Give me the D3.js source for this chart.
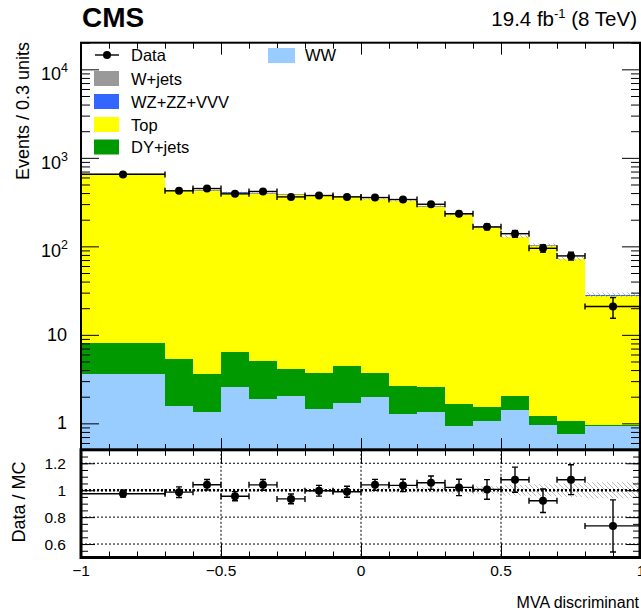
<!DOCTYPE html>
<html>
<head>
<meta charset="utf-8">
<script src="https://cdn.jsdelivr.net/npm/d3@7"></script>
<style>
body { margin: 0; background: #fff; }
text { font-family: "Liberation Sans", Arial, sans-serif; fill: #000; }
</style>
</head>
<body>
<script>
var w = 641;
var h = 615;

// bin edges of the MVA discriminant
var edges = [-1, -0.7, -0.6, -0.5, -0.4, -0.3, -0.2, -0.1, 0, 0.1, 0.2, 0.3, 0.4, 0.5, 0.6, 0.7, 0.8, 1];

// stacked backgrounds, bottom to top
var ww    = [3.65, 1.57, 1.34, 2.58, 1.87, 2.04, 1.46, 1.70, 2.00, 1.27, 1.34, 0.94, 1.06, 1.42, 0.96, 0.76, 0.93];
var dy    = [4.40, 3.73, 2.25, 3.79, 3.25, 2.05, 2.26, 2.76, 1.68, 1.38, 1.24, 0.72, 0.47, 0.62, 0.25, 0.30, 0.02];
var top_  = [652, 420, 423, 399, 389, 378, 368, 357, 335, 320, 277, 225, 161, 125, 100, 70, 26.8];
var wz    = [1.5, 1.0, 1.0, 1.0, 1.0, 1.0, 0.9, 0.9, 0.8, 0.8, 0.7, 0.6, 0.5, 0.4, 0.4, 0.3, 0.2];
var wjets = [6.0, 4.0, 5.0, 4.0, 6.0, 4.0, 4.0, 4.0, 3.0, 3.0, 3.0, 2.0, 2.0, 1.5, 1.5, 1.0, 0.5];

// relative MC uncertainty (hatched band)
var mcUnc = [0.010, 0.012, 0.012, 0.012, 0.013, 0.014, 0.015, 0.016, 0.018, 0.020, 0.022, 0.025, 0.030, 0.040, 0.045, 0.050, 0.060];

// observed data
var data    = [650, 424, 450, 392, 417, 362, 375, 362, 356, 338, 299, 234, 166, 139, 95, 78, 20.9];
var dataErr = [17, 17, 17, 14, 16, 14, 15, 15, 14, 15, 14, 14, 12, 12, 9, 8, 5.5];

var yTicks = [1, 10, 100, 1000, 10000];
var yTickLabels = [["1", ""], ["10", ""], ["10", "2"], ["10", "3"], ["10", "4"]];
var xTicks = [-1, -0.5, 0, 0.5, 1];
var xTickLabels = ["\u22121", "\u22120.5", "0", "0.5", "1"];
var rTicks = [0.6, 0.8, 1, 1.2];
var rTickLabels = ["0.6", "0.8", "1", "1.2"];

var colors = { WW: "#99ccff", DY: "#009900", Top: "#ffff00", WZ: "#3366ff", Wjets: "#999999" };
var keys = ["WW", "DY", "Top", "WZ", "Wjets"];

var xScale = d3.scaleLinear().domain([-1, 1]).range([81, 641]);
var yScale = d3.scaleLog().domain([0.5, 2e4]).range([450, 42.7]);
var rScale = d3.scaleLinear().domain([0.5, 1.3]).range([557.5, 449.8]);

var rows = edges.slice(0, -1).map(function(e, i) {
  return { lo: e, hi: edges[i + 1], WW: ww[i], DY: dy[i], Top: top_[i], WZ: wz[i], Wjets: wjets[i] };
});
rows.forEach(function(r, i) {
  r.total = r.WW + r.DY + r.Top + r.WZ + r.Wjets;
  r.unc = mcUnc[i];
  r.data = data[i];
  r.err = dataErr[i];
  r.ratio = data[i] / r.total;
  r.rerr = dataErr[i] / r.total;
  r.mid = (r.lo + r.hi) / 2;
});
var series = d3.stack().keys(keys)(rows);

var svg = d3.select("body").append("svg").attr("width", w).attr("height", h);

var defs = svg.append("defs");
defs.append("clipPath").attr("id", "clipMain").append("rect")
  .attr("x", 81).attr("y", 42.7).attr("width", 560).attr("height", 450 - 42.7);
defs.append("clipPath").attr("id", "clipRatio").append("rect")
  .attr("x", 81).attr("y", 449.8).attr("width", 560).attr("height", 557.5 - 449.8);
var pat = defs.append("pattern").attr("id", "hatch")
  .attr("patternUnits", "userSpaceOnUse").attr("width", 5).attr("height", 5);
pat.append("path").attr("d", "M0,0 L5,5 M-1,4 L1,6 M4,-1 L6,1")
  .attr("stroke", "#aaa").attr("stroke-width", 0.8);

// ---------- main panel ----------
var main = svg.append("g").attr("clip-path", "url(#clipMain)");

main.selectAll("g.layer")
  .data(series.slice().reverse())
  .enter()
  .append("g")
  .attr("class", "layer")
  .attr("fill", function(s) { return colors[s.key]; })
  .selectAll("rect")
  .data(function(s) { return s; })
  .enter()
  .append("rect")
  .attr("shape-rendering", "crispEdges")
  .attr("x", function(d) { return xScale(d.data.lo); })
  .attr("width", function(d) { return xScale(d.data.hi) - xScale(d.data.lo); })
  .attr("y", function(d) { return yScale(d[1]); })
  .attr("height", function(d) { return yScale(Math.max(d[0], 0.5)) - yScale(d[1]); });

main.selectAll("rect.band")
  .data(rows)
  .enter()
  .append("rect")
  .attr("class", "band")
  .attr("x", function(d) { return xScale(d.lo); })
  .attr("width", function(d) { return xScale(d.hi) - xScale(d.lo); })
  .attr("y", function(d) { return yScale(d.total * (1 + d.unc)); })
  .attr("height", function(d) { return yScale(d.total * (1 - d.unc)) - yScale(d.total * (1 + d.unc)); })
  .attr("fill", "url(#hatch)");

// axes of main panel
var yMinor = yScale.ticks().filter(function(t) { return yTicks.indexOf(t) < 0; });
var xMinor = d3.range(-10, 11).map(function(i) { return i / 10; });

function clean(g) { g.select(".domain").remove(); g.selectAll("line").attr("stroke", "#000"); }

svg.append("g").attr("transform", "translate(81,0)")
  .call(d3.axisRight(yScale).tickValues(yTicks).tickSize(18).tickFormat("")).call(clean);
svg.append("g").attr("transform", "translate(81,0)")
  .call(d3.axisRight(yScale).tickValues(yMinor).tickSize(9).tickFormat("")).call(clean);
svg.append("g").attr("transform", "translate(640,0)")
  .call(d3.axisLeft(yScale).tickValues(yTicks).tickSize(18).tickFormat("")).call(clean);
svg.append("g").attr("transform", "translate(640,0)")
  .call(d3.axisLeft(yScale).tickValues(yMinor).tickSize(9).tickFormat("")).call(clean);

svg.append("g").attr("transform", "translate(0,450)")
  .call(d3.axisTop(xScale).tickValues(xMinor).tickSize(6).tickFormat("")).call(clean);
svg.append("g").attr("transform", "translate(0,450)")
  .call(d3.axisTop(xScale).tickValues(xTicks).tickSize(12).tickFormat("")).call(clean);
svg.append("g").attr("transform", "translate(0,42.7)")
  .call(d3.axisBottom(xScale).tickValues(xMinor).tickSize(6).tickFormat("")).call(clean);
svg.append("g").attr("transform", "translate(0,42.7)")
  .call(d3.axisBottom(xScale).tickValues(xTicks).tickSize(12).tickFormat("")).call(clean);

svg.append("rect").attr("x", 81).attr("y", 42.7).attr("width", 559).attr("height", 450 - 42.7)
  .attr("fill", "none").attr("stroke", "#000").attr("stroke-width", 2);

// y tick labels with superscripts
var yl = svg.selectAll("text.ylab")
  .data(yTicks)
  .enter()
  .append("text")
  .attr("class", "ylab")
  .attr("x", 67)
  .attr("y", function(d) { return yScale(d) + 6; })
  .attr("text-anchor", "end")
  .style("font-size", "18px");
yl.append("tspan").text(function(d, i) { return yTickLabels[i][0]; });
yl.append("tspan")
  .attr("dy", -8)
  .style("font-size", "12.5px")
  .text(function(d, i) { return yTickLabels[i][1]; });
yl.filter(function(d, i) { return yTickLabels[i][1] !== ""; })
  .attr("y", function(d) { return yScale(d) + 11; })
  .attr("x", 68);

svg.append("text")
  .attr("transform", "translate(29,42) rotate(-90)")
  .attr("text-anchor", "end")
  .style("font-size", "18px")
  .text("Events / 0.3 units");

// data points with error bars
function drawPoints(g, yfn, efn) {
  var pts = g.selectAll("g.pt").data(rows).enter().append("g").attr("class", "pt");
  pts.append("line")
    .attr("x1", function(d) { return xScale(d.lo); })
    .attr("x2", function(d) { return xScale(d.hi); })
    .attr("y1", function(d) { return yfn(d); })
    .attr("y2", function(d) { return yfn(d); });
  pts.append("line")
    .attr("x1", function(d) { return xScale(d.mid); })
    .attr("x2", function(d) { return xScale(d.mid); })
    .attr("y1", function(d) { return efn(d, 1); })
    .attr("y2", function(d) { return efn(d, -1); });
  [1, -1].forEach(function(s) {
    pts.append("line")
      .attr("x1", function(d) { return xScale(d.mid) - 3; })
      .attr("x2", function(d) { return xScale(d.mid) + 3; })
      .attr("y1", function(d) { return efn(d, s); })
      .attr("y2", function(d) { return efn(d, s); });
  });
  ["lo", "hi"].forEach(function(k) {
    pts.append("line")
      .attr("x1", function(d) { return xScale(d[k]); })
      .attr("x2", function(d) { return xScale(d[k]); })
      .attr("y1", function(d) { return yfn(d) - 3; })
      .attr("y2", function(d) { return yfn(d) + 3; });
  });
  pts.selectAll("line").attr("stroke", "#000").attr("stroke-width", 1.4);
  pts.append("circle")
    .attr("cx", function(d) { return xScale(d.mid); })
    .attr("cy", function(d) { return yfn(d); })
    .attr("r", 4)
    .attr("fill", "#000");
}

drawPoints(svg.append("g"),
  function(d) { return yScale(d.data); },
  function(d, s) { return yScale(d.data + s * d.err); });

// legend
var leg = svg.append("g").style("font-size", "16.5px");
leg.append("line").attr("x1", 95).attr("x2", 119).attr("y1", 55).attr("y2", 55)
  .attr("stroke", "#000").attr("stroke-width", 1.4);
leg.append("circle").attr("cx", 107).attr("cy", 55).attr("r", 4).attr("fill", "#000");
leg.append("text").attr("x", 131).attr("y", 61).text("Data");

var legEntries = [["Wjets", "W+jets", 78.5], ["WZ", "WZ+ZZ+VVV", 101.5], ["Top", "Top", 124.5], ["DY", "DY+jets", 147]];
legEntries.forEach(function(e) {
  leg.append("rect").attr("x", 94).attr("y", e[2] - 7.5).attr("width", 25).attr("height", 15)
    .attr("fill", colors[e[0]]);
  leg.append("text").attr("x", 131).attr("y", e[2] + 6).text(e[1]);
});
leg.append("rect").attr("x", 268).attr("y", 48).attr("width", 27).attr("height", 15).attr("fill", colors.WW);
leg.append("text").attr("x", 305).attr("y", 61).text("WW");

// header
svg.append("text").attr("x", 82).attr("y", 27)
  .style("font-size", "28px").style("font-weight", "bold").text("CMS");
var lumi = svg.append("text").attr("x", 637).attr("y", 26).attr("text-anchor", "end")
  .style("font-size", "20.5px");
lumi.append("tspan").text("19.4 fb");
lumi.append("tspan").attr("dy", -8).style("font-size", "13px").text("-1");
lumi.append("tspan").attr("dy", 8).text(" (8 TeV)");

// ---------- ratio panel ----------
var ratio = svg.append("g").attr("clip-path", "url(#clipRatio)");

ratio.selectAll("rect.band")
  .data(rows)
  .enter()
  .append("rect")
  .attr("class", "band")
  .attr("x", function(d) { return xScale(d.lo); })
  .attr("width", function(d) { return xScale(d.hi) - xScale(d.lo); })
  .attr("y", function(d) { return rScale(1 + d.unc); })
  .attr("height", function(d) { return rScale(1 - d.unc) - rScale(1 + d.unc); })
  .attr("fill", "url(#hatch)");

ratio.selectAll("line.hgrid")
  .data(rTicks)
  .enter()
  .append("line")
  .attr("x1", 81).attr("x2", 641)
  .attr("y1", function(d) { return rScale(d); })
  .attr("y2", function(d) { return rScale(d); })
  .attr("stroke", "#000")
  .attr("stroke-width", function(d) { return d === 1 ? 2.6 : 1; })
  .attr("stroke-dasharray", "2,2");

ratio.selectAll("line.vgrid")
  .data([-0.5, 0, 0.5])
  .enter()
  .append("line")
  .attr("x1", function(d) { return xScale(d); })
  .attr("x2", function(d) { return xScale(d); })
  .attr("y1", 449.8).attr("y2", 557.5)
  .attr("stroke", "#000")
  .attr("stroke-width", 1)
  .attr("stroke-dasharray", "2,2");

drawPoints(ratio,
  function(d) { return rScale(d.ratio); },
  function(d, s) { return rScale(d.ratio + s * d.rerr); });

var rMinor = d3.range(10, 27).map(function(i) { return i / 20; });
svg.append("g").attr("transform", "translate(81,0)")
  .call(d3.axisRight(rScale).tickValues(rMinor).tickSize(7).tickFormat("")).call(clean);
svg.append("g").attr("transform", "translate(81,0)")
  .call(d3.axisRight(rScale).tickValues(rTicks).tickSize(14).tickFormat("")).call(clean);
svg.append("g").attr("transform", "translate(640,0)")
  .call(d3.axisLeft(rScale).tickValues(rMinor).tickSize(7).tickFormat("")).call(clean);
svg.append("g").attr("transform", "translate(640,0)")
  .call(d3.axisLeft(rScale).tickValues(rTicks).tickSize(14).tickFormat("")).call(clean);
svg.append("g").attr("transform", "translate(0,557.5)")
  .call(d3.axisTop(xScale).tickValues(xMinor).tickSize(6).tickFormat("")).call(clean);
svg.append("g").attr("transform", "translate(0,557.5)")
  .call(d3.axisTop(xScale).tickValues(xTicks).tickSize(14).tickFormat("")).call(clean);
svg.append("g").attr("transform", "translate(0,449.8)")
  .call(d3.axisBottom(xScale).tickValues(xMinor).tickSize(6).tickFormat("")).call(clean);
svg.append("g").attr("transform", "translate(0,449.8)")
  .call(d3.axisBottom(xScale).tickValues(xTicks).tickSize(14).tickFormat("")).call(clean);

svg.append("rect").attr("x", 81).attr("y", 449.8).attr("width", 559).attr("height", 557.5 - 449.8)
  .attr("fill", "none").attr("stroke", "#000").attr("stroke-width", 3);

svg.selectAll("text.rlab")
  .data(rTicks)
  .enter()
  .append("text")
  .attr("class", "rlab")
  .attr("x", 66)
  .attr("y", function(d) { return rScale(d) + 5.5; })
  .attr("text-anchor", "end")
  .style("font-size", "15.5px")
  .text(function(d, i) { return rTickLabels[i]; });

svg.selectAll("text.xlab")
  .data(xTicks)
  .enter()
  .append("text")
  .attr("class", "xlab")
  .attr("x", function(d) { return xScale(d); })
  .attr("y", 576)
  .attr("text-anchor", "middle")
  .style("font-size", "15.5px")
  .text(function(d, i) { return xTickLabels[i]; });

svg.append("text")
  .attr("transform", "translate(25,502) rotate(-90)")
  .attr("text-anchor", "middle")
  .style("font-size", "18px")
  .text("Data / MC");

svg.append("text").attr("x", 639).attr("y", 608).attr("text-anchor", "end")
  .style("font-size", "16px").text("MVA discriminant");
</script>
</body>
</html>
